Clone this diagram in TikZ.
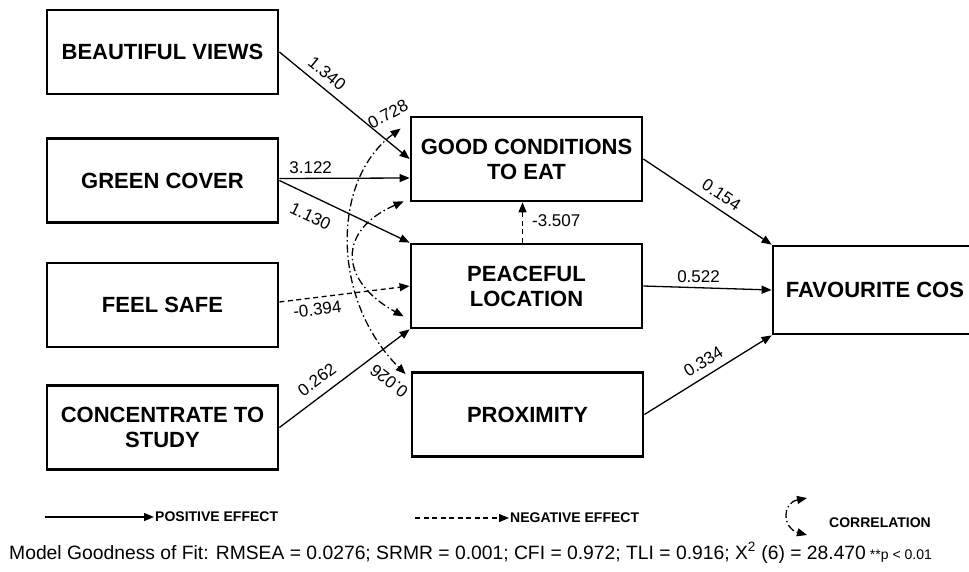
\documentclass[tikz,border=0pt]{standalone}
\usepackage{fontspec}
\setmainfont{Liberation Sans}
\usepackage{tikz}
\usetikzlibrary{arrows.meta,calc,positioning}
\tikzset{
  construct/.style={draw,line width=2.8pt,minimum width=231pt,minimum height=84pt,align=center,inner sep=2pt,font=\bfseries\fontsize{22}{25}\selectfont},
  effect/.style={-{Triangle[length=10pt,width=8pt]},line width=1.3pt},
  negeffect/.style={effect,dash pattern=on 5pt off 3.5pt},
  correl/.style={{Triangle[length=10pt,width=8pt]}-{Triangle[length=10pt,width=8pt]},line width=1.3pt,dash pattern=on 8pt off 3pt on 1.5pt off 3pt},
  coef/.style={font=\fontsize{17}{19}\selectfont,inner sep=1pt},
  legendtext/.style={font=\bfseries\fontsize{14}{16}\selectfont,anchor=west,inner sep=1pt}
}
\begin{document}
\begin{tikzpicture}[x=1pt,y=-1pt]
  \useasboundingbox (0,0) rectangle (969,572);
  % exogenous
  \node[construct] (bv) at (162.5,52) {BEAUTIFUL VIEWS};
  \node[construct] (gc) at (162.5,180.5) {GREEN COVER};
  \node[construct] (fs) at (162.5,305) {FEEL SAFE};
  \node[construct] (cs) at (162.5,427.5) {CONCENTRATE TO\\STUDY};
  % mediators and outcome
  \node[construct] (gce) at (526.5,159) {GOOD CONDITIONS\\TO EAT};
  \node[construct] (pl) at (526.5,286) {PEACEFUL\\LOCATION};
  \node[construct] (prox) at (527.5,414.5) {PROXIMITY};
  \node[construct,minimum width=204pt,minimum height=88pt] (fc) at (875,290) {FAVOURITE COS};
  % paths
  \draw[effect] (bv.east) -- node[coef,pos=0.3,above=6pt,sloped] {1.340} (gce.west);
  \draw[effect] ([yshift=2pt]gc.east) -- node[coef,pos=0.24,above=3pt] {3.122} ([yshift=-19pt]gce.west);
  \draw[effect] (gc.east) -- node[coef,pos=0.3,below=11pt,sloped] {1.130} (pl.north west);
  \draw[negeffect] ([yshift=3pt]fs.east) -- node[coef,pos=0.28,below=4pt,sloped] {-0.394} (pl.west);
  \draw[effect] (cs.east) -- node[coef,pos=0.36,above=8pt,sloped] {0.262} (pl.south west);
  \draw[negeffect] ([xshift=-4pt]pl.north) -- node[coef,pos=0.55,right=8pt] {-3.507} ([xshift=-4pt]gce.south);
  \draw[effect] (gce.east) -- node[coef,pos=0.55,above=6pt,sloped] {0.154} (fc.north west);
  \draw[effect] (pl.east) -- node[coef,pos=0.43,above=3pt] {0.522} (fc.west);
  \draw[effect] (prox.east) -- node[coef,pos=0.52,above=6pt,sloped] {0.334} (fc.south west);
  % correlations
  \draw[correl] ([xshift=-9pt,yshift=-13pt]gce.north west) .. controls (331,180) and (331,300) .. ([xshift=-5pt,yshift=-3pt]prox.north west);
  \draw[correl] ([xshift=-6pt,yshift=1pt]gce.south west) .. controls (338,230) and (338,280) .. ([xshift=-6pt,yshift=13pt]pl.south west);
  \node[coef,rotate=28] (r1) at (388,114) {0.728};
  \node[coef,rotate=142] (r2) at (389,381) {0.026};
  % legend
  \node[legendtext] (lpos) at (154,517) {POSITIVE EFFECT};
  \coordinate (lpos0) at (45,517);
  \draw[effect] (lpos0) -- (lpos.west);
  \node[legendtext] (lneg) at (509,518) {NEGATIVE EFFECT};
  \coordinate (lneg0) at (415,518);
  \draw[negeffect] (lneg0) -- (lneg.west);
  \node[legendtext] (lcor) at (828,523) {CORRELATION};
  \coordinate (lcora) at (807,498);
  \coordinate (lcorb) at (807,535);
  \draw[correl] (lcora) .. controls (782,503) and (782,528) .. (lcorb);
  \node[font=\fontsize{19.3}{22}\selectfont,anchor=west,inner sep=0pt] (gof) at (9,553) {Model Goodness of Fit: RMSEA = 0.0276; SRMR = 0.001; CFI = 0.972; TLI = 0.916; X\textsuperscript{2} (6) = 28.470\hspace{4pt}{\fontsize{14}{16}\selectfont **p < 0.01}};
\end{tikzpicture}
\end{document}
